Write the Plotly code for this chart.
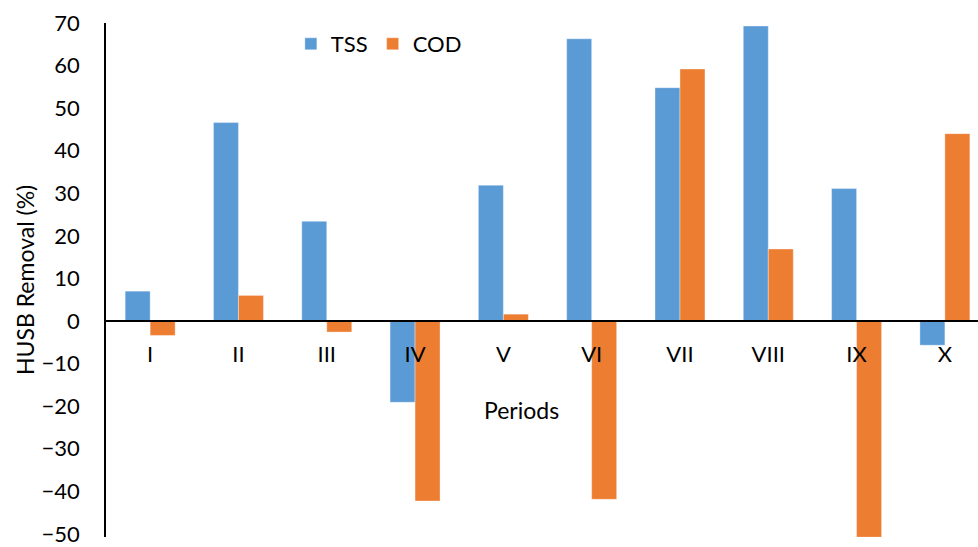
import plotly.graph_objects as go

periods = ["I", "II", "III", "IV", "V", "VI", "VII", "VIII", "IX", "X"]
tss = [7.0, 46.6, 23.4, -19.1, 31.9, 66.3, 54.8, 69.3, 31.1, -5.7]
cod = [-3.4, 6.0, -2.6, -42.3, 1.6, -41.9, 59.2, 16.9, -50.8, 44.0]
y_ticks = [70, 60, 50, 40, 30, 20, 10, 0, -10, -20, -30, -40, -50]

FONT = "Lato"
ymin, ymax = -50.75, 70

fig = go.Figure()
fig.add_trace(go.Bar(x=periods, y=tss, name="TSS",
                     marker=dict(color="#5B9BD5", line=dict(color="rgba(255,255,255,0.35)", width=1))))
fig.add_trace(go.Bar(x=periods, y=cod, name="COD",
                     marker=dict(color="#ED7D31", line=dict(color="rgba(255,255,255,0.35)", width=1))))

zero_frac = (0 - ymin) / (ymax - ymin)

fig.update_layout(
    width=978, height=547,
    margin=dict(l=106, r=0, t=23, b=8),
    plot_bgcolor="white", paper_bgcolor="white",
    barmode="group", bargap=0.434, bargroupgap=0,
    font=dict(family=FONT, size=22, color="#000000"),
    showlegend=True,
    legend=dict(orientation="h", x=0.212, y=1.0, xanchor="left", yanchor="top",
                font=dict(family=FONT, size=22, color="#000000"),
                bgcolor="rgba(0,0,0,0)", itemwidth=30, tracegroupgap=0),
    xaxis=dict(type="category", range=[-0.5, 9.375], showgrid=False,
               anchor="free", position=zero_frac,
               showline=True, linecolor="#000000", linewidth=1.5,
               ticks="", ticklabelstandoff=14,
               tickfont=dict(family=FONT, size=22, color="#000000"),
               zeroline=False, fixedrange=True),
    yaxis=dict(range=[ymin, ymax], tickvals=y_ticks, showgrid=False,
               showline=True, linecolor="#000000", linewidth=1.5,
               ticks="", ticklabelstandoff=20, ticklabeloverflow="allow",
               tickfont=dict(family=FONT, size=22, color="#000000"),
               zeroline=False),
    annotations=[
        dict(text="Periods", xref="paper", yref="paper",
             x=(521 - 106) / 872, y=(538.8 - 411) / 515.8,
             xanchor="center", yanchor="middle", showarrow=False,
             font=dict(family=FONT, size=23, color="#000000")),
        dict(text="HUSB Removal (%)", xref="paper", yref="paper",
             x=(25 - 106) / 872, y=0.5, textangle=-90,
             xanchor="center", yanchor="middle", showarrow=False,
             font=dict(family=FONT, size=23, color="#000000")),
    ],
)

fig.write_html("out.html")
